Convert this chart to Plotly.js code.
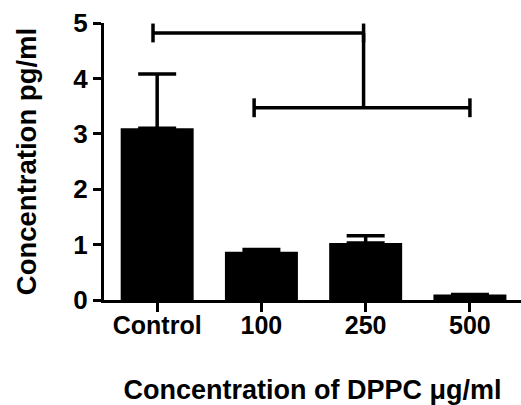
<!DOCTYPE html>
<html>
<head>
<meta charset="utf-8">
<script src="https://cdn.plot.ly/plotly-3.0.1.min.js"></script>
<style>html,body{margin:0;padding:0;background:#fff;}#chart{width:521px;height:405px;}</style>
</head>
<body>
<div id="chart"></div>
<script>
var categories = ["Control", "100", "250", "500"];
var meanValues = [3.1, 0.87, 1.03, 0.1];
var errorPlus = [0.98, 0.04, 0.13, 0];
var yTicks = [0, 1, 2, 3, 4, 5];
// significance brackets: [start position, end position, height]
var bracketStart = [-0.04, 0.93];
var bracketEnd = [1.98, 3.0];
var bracketLevel = [4.82, 3.47];
var capHalf = 0.17;

var font = "Liberation Sans, Arial, sans-serif";

var trace = {
  type: "bar",
  x: [0, 1, 2, 3],
  y: meanValues,
  width: 0.7,
  marker: {color: "#000", line: {width: 0}},
  error_y: {type: "data", symmetric: false, array: errorPlus, arrayminus: [0,0,0,0],
            color: "#000", thickness: 3.5, width: 19},
  hoverinfo: "none"
};

var shapes = [];
var lw = 3.5;
for (var i = 0; i < bracketStart.length; i++) {
  shapes.push({type: "line", xref: "x", yref: "y", x0: bracketStart[i], x1: bracketEnd[i], y0: bracketLevel[i], y1: bracketLevel[i], line: {color: "#000", width: lw}});
  shapes.push({type: "line", xref: "x", yref: "y", x0: bracketStart[i], x1: bracketStart[i], y0: bracketLevel[i]-capHalf, y1: bracketLevel[i]+capHalf, line: {color: "#000", width: lw}});
  shapes.push({type: "line", xref: "x", yref: "y", x0: bracketEnd[i], x1: bracketEnd[i], y0: bracketLevel[i]-capHalf, y1: bracketLevel[i]+capHalf, line: {color: "#000", width: lw}});
}
// connector from first bracket end down to second bracket
shapes.push({type: "line", xref: "x", yref: "y", x0: bracketEnd[0], x1: bracketEnd[0], y0: bracketLevel[0], y1: bracketLevel[1], line: {color: "#000", width: lw}});

var layout = {
  width: 521, height: 405,
  margin: {l: 104, r: 0, t: 23, b: 105},
  paper_bgcolor: "#fff", plot_bgcolor: "#fff",
  showlegend: false,
  font: {family: font, color: "#000"},
  xaxis: {
    range: [-0.51, 3.49],
    tickmode: "array", tickvals: [0, 1, 2, 3], ticktext: categories,
    showline: true, linecolor: "#000", linewidth: 3,
    ticks: "outside", ticklen: 9, tickwidth: 3, tickcolor: "#000",
    ticklabelstandoff: -8,
    showgrid: false, zeroline: false,
    tickfont: {family: font, size: 25, weight: "bold"},
    title: {text: "Concentration of DPPC \u03bcg/ml", font: {family: font, size: 27, weight: "bold"}, standoff: 44}
  },
  yaxis: {
    range: [0, 5],
    tickmode: "array", tickvals: yTicks,
    showline: true, linecolor: "#000", linewidth: 3,
    ticks: "outside", ticklen: 8, tickwidth: 3, tickcolor: "#000",
    showgrid: false, zeroline: false,
    tickfont: {family: font, size: 26, weight: "bold"},
    title: {text: "Concentration pg/ml", font: {family: font, size: 27.5, weight: "bold"}, standoff: 29}
  },
  shapes: shapes
};

Plotly.newPlot("chart", [trace], layout, {displayModeBar: false, staticPlot: true});
</script>
</body>
</html>
